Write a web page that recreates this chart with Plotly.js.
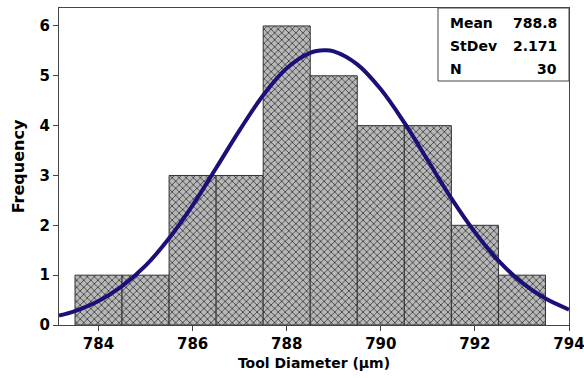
<!DOCTYPE html>
<html>
<head>
<meta charset="utf-8">
<script src="https://cdn.plot.ly/plotly-3.0.1.min.js"></script>
<style>html,body{margin:0;padding:0;background:#fff;}#chart{width:584px;height:378px;}</style>
</head>
<body>
<div id="chart"></div>
<script>
// Histogram bins (centres) and counts
const binCentres = [784, 785, 786, 787, 788, 789, 790, 791, 792, 793];
const binCounts  = [1, 1, 3, 3, 6, 5, 4, 4, 2, 1];
// Fitted normal curve
const curveX = [783.16, 783.5, 784, 784.5, 785, 785.5, 786, 786.5, 787, 787.5, 788, 788.5, 788.8, 789, 789.5, 790, 790.5, 791, 791.5, 792, 792.5, 793, 793.5, 794];
const curveY = [0.19, 0.28, 0.48, 0.78, 1.19, 1.74, 2.40, 3.15, 3.91, 4.61, 5.15, 5.46, 5.51, 5.49, 5.23, 4.73, 4.06, 3.30, 2.54, 1.86, 1.29, 0.85, 0.53, 0.31];
// Statistics box
const statLabels = ["Mean", "StDev", "N"];
const statValues = ["788.8", "2.171", "30"];
const xTicks = [784, 786, 788, 790, 792, 794];
const yTicks = [0, 1, 2, 3, 4, 5, 6];

const font = "DejaVu Sans, Verdana, sans-serif";

const traces = [
  {
    type: "bar", x: binCentres, y: binCounts, width: 1,
    marker: {
      color: "#a9a9a9",
      line: {color: "#333333", width: 1},
      pattern: {shape: "x", fgcolor: "#3a3a3a", bgcolor: "#b8b8b8", size: 5, solidity: 0.3}
    },
    hoverinfo: "skip"
  },
  {
    type: "scatter", mode: "lines", x: curveX, y: curveY,
    line: {color: "#1a1078", width: 4, shape: "spline"},
    hoverinfo: "skip"
  }
];

const annotations = [];
statLabels.forEach((lab, i) => {
  const yy = 22.5 + i * 23;
  annotations.push({xref: "paper", yref: "paper", x: (448 - 59) / 510, y: 1 - (yy - 8) / 317,
    xanchor: "left", yanchor: "middle", showarrow: false, text: "<b>" + lab + "</b>",
    font: {family: font, size: 14, color: "#000"}});
  annotations.push({xref: "paper", yref: "paper", x: (559 - 59) / 510, y: 1 - (yy - 8) / 317,
    xanchor: "right", yanchor: "middle", showarrow: false, text: "<b>" + statValues[i] + "</b>",
    font: {family: font, size: 14, color: "#000"}});
});

const layout = {
  width: 584, height: 378,
  margin: {l: 59, r: 15, t: 8, b: 53},
  paper_bgcolor: "#fff", plot_bgcolor: "#fff",
  showlegend: false,
  bargap: 0,
  xaxis: {
    range: [783.16, 794], tickvals: xTicks, ticktext: xTicks.map(v => "<b>" + v + "</b>"),
    ticks: "outside", ticklen: 5, tickcolor: "#444", tickwidth: 1,
    showline: true, linecolor: "#444", linewidth: 1, mirror: true,
    showgrid: false, zeroline: false, ticklabeloverflow: "allow",
    tickfont: {family: font, size: 15, color: "#000"},
    title: {text: "<b>Tool Diameter (µm)</b>", font: {family: font, size: 14, color: "#000"}, standoff: 6}
  },
  yaxis: {
    range: [0, 6.36], tickvals: yTicks, ticktext: yTicks.map(v => "<b>" + v + "</b>"),
    ticks: "outside", ticklen: 5, tickcolor: "#444", tickwidth: 1,
    showline: true, linecolor: "#444", linewidth: 1, mirror: true,
    showgrid: false, zeroline: false,
    tickfont: {family: font, size: 15, color: "#000"},
    title: {text: "<b>Frequency</b>", font: {family: font, size: 16, color: "#000"}, standoff: 10}
  },
  shapes: [
    {type: "rect", xref: "paper", yref: "paper", x0: (438 - 59) / 510, x1: 1, y0: 1 - (81 - 8) / 317, y1: 1,
     line: {color: "#444", width: 1}, fillcolor: "#fff", layer: "above"}
  ],
  annotations: annotations
};

Plotly.newPlot("chart", traces, layout, {displayModeBar: false, staticPlot: true});
</script>
</body>
</html>
